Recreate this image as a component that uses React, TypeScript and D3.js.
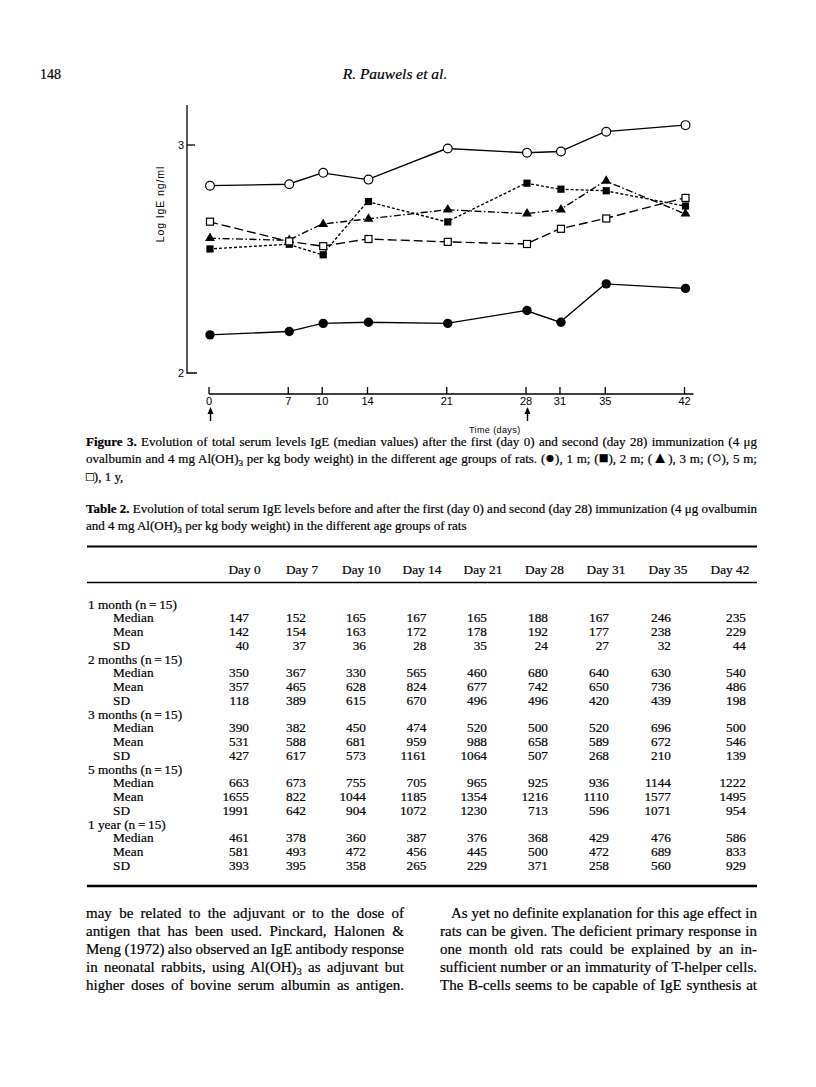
import React, { useLayoutEffect, useRef } from "react";
import * as d3 from "d3";

// days of sampling (x axis and table columns)
const days = [0, 7, 10, 14, 21, 28, 31, 35, 42];
const dayHeaders = days.map((d) => `Day ${d}`);

// Table 2 values, per age group
const median1m = [147, 152, 165, 167, 165, 188, 167, 246, 235];
const mean1m = [142, 154, 163, 172, 178, 192, 177, 238, 229];
const sd1m = [40, 37, 36, 28, 35, 24, 27, 32, 44];

const median2m = [350, 367, 330, 565, 460, 680, 640, 630, 540];
const mean2m = [357, 465, 628, 824, 677, 742, 650, 736, 486];
const sd2m = [118, 389, 615, 670, 496, 496, 420, 439, 198];

const median3m = [390, 382, 450, 474, 520, 500, 520, 696, 500];
const mean3m = [531, 588, 681, 959, 988, 658, 589, 672, 546];
const sd3m = [427, 617, 573, 1161, 1064, 507, 268, 210, 139];

const median5m = [663, 673, 755, 705, 965, 925, 936, 1144, 1222];
const mean5m = [1655, 822, 1044, 1185, 1354, 1216, 1110, 1577, 1495];
const sd5m = [1991, 642, 904, 1072, 1230, 713, 596, 1071, 954];

const median1y = [461, 378, 360, 387, 376, 368, 429, 476, 586];
const mean1y = [581, 493, 472, 456, 445, 500, 472, 689, 833];
const sd1y = [393, 395, 358, 265, 229, 371, 258, 560, 929];

const groupLabels = [
  "1 month (n\u2009=\u200915)",
  "2 months (n\u2009=\u200915)",
  "3 months (n\u2009=\u200915)",
  "5 months (n\u2009=\u200915)",
  "1 year (n\u2009=\u200915)",
];
const statLabels = ["Median", "Mean", "SD"];
const tableGroups = [
  [median1m, mean1m, sd1m],
  [median2m, mean2m, sd2m],
  [median3m, mean3m, sd3m],
  [median5m, mean5m, sd5m],
  [median1y, mean1y, sd1y],
];

// the figure plots the medians
const series = [
  { name: "1 m", values: median1m, marker: "fcircle", dash: "" },
  { name: "2 m", values: median2m, marker: "fsquare", dash: "3,2" },
  { name: "3 m", values: median3m, marker: "ftriangle", dash: "7,2.5,1.5,2.5" },
  { name: "5 m", values: median5m, marker: "ocircle", dash: "" },
  { name: "1 y", values: median1y, marker: "osquare", dash: "9,4" },
];
const yTicks = [100, 1000];
const arrowDays = [0, 28];

const serif = "'Liberation Serif', 'Times New Roman', serif";
const sans = "'Liberation Sans', Arial, sans-serif";
const ink = { stroke: "#000", strokeWidth: 0.2 };

const x = d3.scaleLinear().domain([0, 42]).range([209, 684.5]);
const y = d3.scaleLog().domain([100, 1000]).range([373, 145]);
const line = d3
  .line<number>()
  .x((_, i) => x(days[i]))
  .y((d) => y(d));

const Marker = ({ type, cx, cy }) => {
  if (type === "fcircle") return <circle cx={cx} cy={cy} r={4.7} fill="#000" />;
  if (type === "ocircle")
    return <circle cx={cx} cy={cy} r={4.4} fill="#fff" stroke="#000" strokeWidth={1.2} />;
  if (type === "fsquare") return <rect x={cx - 3.6} y={cy - 3.6} width={7.2} height={7.2} fill="#000" />;
  if (type === "osquare")
    return <rect x={cx - 3.5} y={cy - 3.5} width={7} height={7} fill="#fff" stroke="#000" strokeWidth={1.2} />;
  const tri = d3.symbol().type(d3.symbolTriangle).size(42)();
  return <path d={tri} transform={`translate(${cx},${cy})`} fill="#000" />;
};

// one line of text, justified to width by stretching the word spaces
const JLine = ({ x0, yb, width = 0, size, children, justify = true }) => {
  const ref = useRef<SVGTextElement>(null);
  useLayoutEffect(() => {
    const el = ref.current;
    if (!el || !justify) return;
    el.setAttribute("word-spacing", "0");
    const w = el.getComputedTextLength();
    const spaces = (el.textContent || "").split(" ").length - 1;
    if (spaces > 0) el.setAttribute("word-spacing", String((width - w) / spaces));
  }, []);
  return (
    <text ref={ref} x={x0} y={yb} fontFamily={serif} fontSize={size} {...ink}>
      {children}
    </text>
  );
};

const Sub = ({ children }) => (
  <tspan fontSize="0.7em" dy={3}>
    {children}
  </tspan>
);
const Up = ({ children }) => <tspan dy={-3}>{children}</tspan>;
const Sym = ({ children }) => <tspan fontSize="1.25em">{children}</tspan>;

const colCenter = [244.5, 302, 361.5, 422, 483, 544.5, 606, 668, 730];
const colRight = [249, 306, 366, 426.5, 487, 548, 609, 671, 746];

const App = () => {
  const yAxisTop = 105;
  const axisX = 187;
  const xAxisY = 394;
  const rowY0 = 608.5;
  const rowStep = 13.75;

  return (
    <svg
      width={816}
      height={1087}
      style={{ position: "absolute", left: 0, top: 0, background: "#fff" }}
    >
      {/* running head */}
      <text x={40} y={79} fontFamily={serif} fontSize={14} {...ink}>148</text>
      <text x={395} y={79} fontFamily={serif} fontSize={15.5} fontStyle="italic" textAnchor="middle" {...ink}>
        R. Pauwels et al.
      </text>

      {/* y axis */}
      <g stroke="#000" strokeWidth={1.3} fill="none">
        <path d={`M${axisX},${yAxisTop}V${y(100)}H${axisX + 10}`} />
        <path d={`M${axisX},${y(1000)}H${axisX + 8}`} />
      </g>
      {yTicks.map((t) => (
        <text key={t} x={axisX - 3} y={y(t) + 4} fontFamily={sans} fontSize={11} textAnchor="end">
          {Math.round(Math.log10(t))}
        </text>
      ))}
      <text
        transform={`translate(164,204) rotate(-90)`}
        fontFamily={sans}
        fontSize={10.5}
        textAnchor="middle"
        letterSpacing={0.9}
      >
        Log IgE ng/ml
      </text>

      {/* x axis */}
      <g stroke="#000" strokeWidth={1.3} fill="none">
        <path d={`M${x(0)},${xAxisY}H${x(42) + 9}`} />
        {days.map((d) => (
          <path key={d} d={`M${x(d)},${xAxisY}V${xAxisY - 7}`} />
        ))}
      </g>
      {days.map((d) => (
        <text key={d} x={x(d)} y={xAxisY + 11} fontFamily={sans} fontSize={11} textAnchor="middle">
          {d}
        </text>
      ))}
      {arrowDays.map((d) => (
        <g key={d}>
          <path d={`M${x(d) + 1.5},${xAxisY + 27}V${xAxisY + 17}`} stroke="#000" strokeWidth={1.4} />
          <path d={`M${x(d) + 1.5},${xAxisY + 13}l-3,7h6z`} fill="#000" />
        </g>
      ))}
      <text x={x(28) - 57} y={xAxisY + 38.5} fontFamily={sans} fontSize={9} letterSpacing={0.4}>
        Time (days)
      </text>

      {/* series */}
      {series.map((s) => (
        <path
          key={s.name}
          d={line(s.values)}
          fill="none"
          stroke="#000"
          strokeWidth={1.35}
          strokeDasharray={s.dash || undefined}
        />
      ))}
      {series.map((s) =>
        s.values.map((v, i) => (
          <Marker key={s.name + i} type={s.marker} cx={x(days[i]) + 1} cy={y(v)} />
        ))
      )}

      {/* figure caption */}
      <JLine x0={86} yb={445.5} width={671} size={13}>
        <tspan fontWeight="bold">Figure 3.</tspan> Evolution of total serum levels IgE (median values) after the first (day 0) and second (day 28) immunization (4 μg
      </JLine>
      <JLine x0={86} yb={463} width={671} size={13}>
        ovalbumin and 4 mg Al(OH)<Sub>3</Sub><Up> per kg body weight) in the different age groups of rats. (<Sym>●</Sym>), 1 m; (<Sym>■</Sym>), 2 m; (<Sym>▲</Sym>), 3 m; (<Sym>○</Sym>), 5 m;</Up>
      </JLine>
      <JLine x0={86} yb={480.5} size={13} justify={false}>
        □), 1 y,
      </JLine>

      {/* table caption */}
      <JLine x0={86} yb={512.5} width={671} size={13}>
        <tspan fontWeight="bold">Table 2.</tspan> Evolution of total serum IgE levels before and after the first (day 0) and second (day 28) immunization (4 μg ovalbumin
      </JLine>
      <JLine x0={86} yb={530} size={13} justify={false}>
        and 4 mg Al(OH)<Sub>3</Sub><Up> per kg body weight) in the different age groups of rats</Up>
      </JLine>

      {/* table */}
      <g stroke="#000" fill="none">
        <path d="M87,546.5H757" strokeWidth={2} />
        <path d="M87,582.5H757" strokeWidth={1.5} />
        <path d="M87,886H757" strokeWidth={2.5} />
      </g>
      {dayHeaders.map((h, i) => (
        <text key={h} x={colCenter[i]} y={573.5} fontFamily={serif} fontSize={13.3} textAnchor="middle" {...ink}>
          {h}
        </text>
      ))}
      {tableGroups.map((g, gi) => {
        const base = rowY0 + gi * 4 * rowStep;
        return (
          <g key={gi} fontFamily={serif} fontSize={13.3} {...ink}>
            <text x={88} y={base}>{groupLabels[gi]}</text>
            {g.map((vals, si) => (
              <g key={si}>
                <text x={113} y={base + (si + 1) * rowStep}>{statLabels[si]}</text>
                {vals.map((v, ci) => (
                  <text key={ci} x={colRight[ci]} y={base + (si + 1) * rowStep} textAnchor="end">
                    {v}
                  </text>
                ))}
              </g>
            ))}
          </g>
        );
      })}

      {/* body text, two columns */}
      <JLine x0={86} yb={918} width={318} size={15}>may be related to the adjuvant or to the dose of</JLine>
      <JLine x0={86} yb={936} width={318} size={15}>antigen that has been used. Pinckard, Halonen &amp;</JLine>
      <JLine x0={86} yb={954} width={318} size={15}>Meng (1972) also observed an IgE antibody response</JLine>
      <JLine x0={86} yb={972} width={318} size={15}>
        in neonatal rabbits, using Al(OH)<Sub>3</Sub><Up> as adjuvant but</Up>
      </JLine>
      <JLine x0={86} yb={990} width={318} size={15}>higher doses of bovine serum albumin as antigen.</JLine>

      <JLine x0={451} yb={918} width={306} size={15}>As yet no definite explanation for this age effect in</JLine>
      <JLine x0={440} yb={936} width={317} size={15}>rats can be given. The deficient primary response in</JLine>
      <JLine x0={440} yb={954} width={317} size={15}>one month old rats could be explained by an in-</JLine>
      <JLine x0={440} yb={972} width={317} size={15}>sufficient number or an immaturity of T-helper cells.</JLine>
      <JLine x0={440} yb={990} width={317} size={15}>The B-cells seems to be capable of IgE synthesis at</JLine>
    </svg>
  );
};

export default App;
